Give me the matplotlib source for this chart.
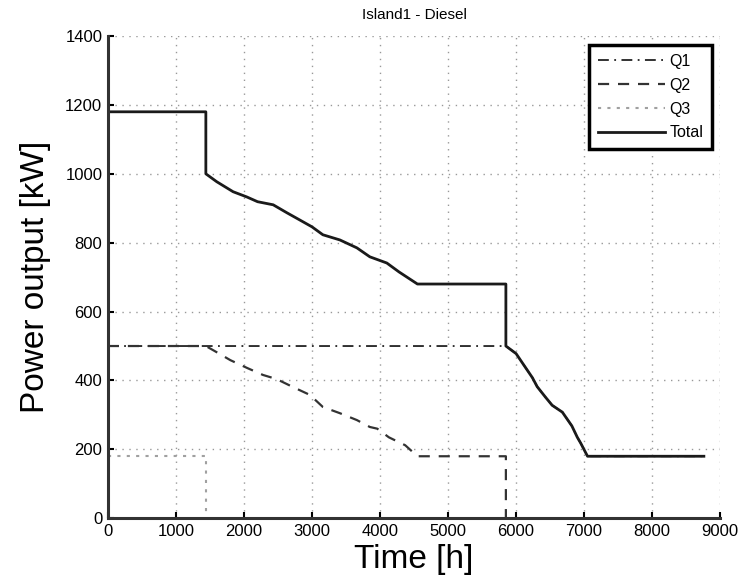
import numpy as np
import matplotlib
matplotlib.use("Agg")
import matplotlib.pyplot as plt

plt.rcParams['font.family'] = ['Liberation Sans', 'DejaVu Sans']

# 디젤 발전기 출력 (Q1, Q2, Q3, Total)
t_q1 = [0, 5850, 6000, 6130, 6240, 6310, 6430, 6530, 6680, 6820, 6900, 6950, 7050, 8760]
p_q1 = [500, 500, 478, 440, 408, 382, 352, 328, 308, 268, 235, 218, 180, 180]

t_q2 = [0, 1440, 1600, 1800, 2050, 2280, 2480, 2720, 2970, 3160, 3410, 3660, 3850,
        3960, 4130, 4370, 4550, 5850, 5850]
p_q2 = [500, 500, 482, 459, 436, 416, 404, 381, 358, 323, 305, 285, 265,
        260, 235, 212, 180, 180, 0]

t_q3 = [0, 1440, 1440]
p_q3 = [180, 180, 0]

t_total = [0, 1440, 1440, 1600, 1840, 2040, 2200, 2430, 2630, 2820, 3000, 3160, 3410,
           3660, 3850, 4100, 4280, 4550, 5850, 5850, 6000, 6130, 6240, 6310, 6430,
           6530, 6680, 6820, 6900, 6950, 7050, 8760]
p_total = [1180, 1180, 1000, 977, 948, 933, 919, 910, 887, 866, 846, 823, 808,
           785, 759, 741, 715, 680, 680, 500, 478, 440, 408, 382, 352,
           328, 308, 268, 235, 218, 180, 180]

labels = ['Q1', 'Q2', 'Q3', 'Total']

fig = plt.figure(figsize=(7.44, 5.81), dpi=100)
ax = fig.add_axes([0.145, 0.108, 0.823, 0.830])

ax.plot(t_q1, p_q1, color='#222222', lw=1.3, ls=(0, (6, 3, 1, 3)), label=labels[0])
ax.plot(t_q2, p_q2, color='#333333', lw=1.6, ls=(0, (5, 4)), label=labels[1])
ax.plot(t_q3, p_q3, color='#a0a0a0', lw=1.5, ls=(0, (1.5, 3)), label=labels[2])
ax.plot(t_total, p_total, color='#1a1a1a', lw=2.0, label=labels[3])

ax.set_xlim(0, 9000)
ax.set_ylim(0, 1400)
ax.set_xticks(np.arange(0, 9001, 1000))
ax.set_yticks(np.arange(0, 1401, 200))
ax.tick_params(direction='in', length=4, width=1.5, labelsize=12, pad=4)

ax.grid(True, color='#999999', lw=1.0, ls=(0, (1, 4)))
ax.spines['top'].set_visible(False)
ax.spines['right'].set_visible(False)
ax.spines['left'].set_linewidth(2.2)
ax.spines['bottom'].set_linewidth(2.2)
ax.spines['left'].set_color('#333333')
ax.spines['bottom'].set_color('#333333')

ax.set_title('Island1 - Diesel', fontsize=11, pad=12)
ax.set_xlabel('Time [h]', fontsize=24, labelpad=4)
ax.set_ylabel('Power output [kW]', fontsize=24, labelpad=10)

leg = ax.legend(loc='upper right', bbox_to_anchor=(0.987, 0.981), borderaxespad=0,
                fontsize=11.5, handlelength=4.2, handletextpad=0.3, labelspacing=0.55,
                fancybox=False, framealpha=1, borderpad=0.55)
leg.get_frame().set_edgecolor('black')
leg.get_frame().set_linewidth(2.5)

plt.savefig('out.png', dpi=100)
